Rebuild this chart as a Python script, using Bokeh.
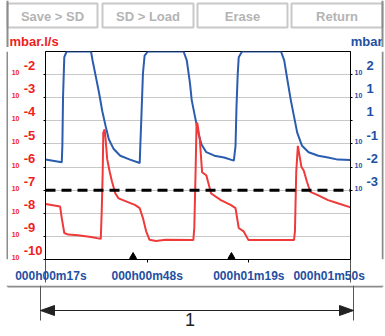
from bokeh.plotting import figure
from bokeh.models import Range1d, LogAxis, LogScale, FixedTicker, Span
from bokeh.layouts import column, row
from bokeh.core.properties import value
from bokeh.embed import file_html
from bokeh.resources import INLINE
import math

# ---------------- data ----------------
time_pressure = [17.0, 21.96, 22.14, 22.35, 22.73, 23.45, 30.88, 31.35, 32.36, 33.34,
                 34.32, 35.33, 36.31, 37.80, 39.79, 42.76, 45.73, 45.91, 46.21, 46.71,
                 47.22, 48.2, 59.1, 60.08, 61.06, 61.57, 62.55, 63.56, 64.54, 66.03,
                 68.49, 71.46, 74.43, 74.94, 75.24, 75.62, 75.92, 76.93, 88.81, 89.79,
                 90.77, 91.78, 92.76, 93.75, 95.23, 97.22, 100.19, 103.16, 106.14, 110.0]
pressure = [2.1e-2, 1.6e-2, 8.3e-2, 11, 570, 1000, 1000, 410, 80, 16,
            2.6, 0.59, 0.16, 0.060, 0.031, 0.021, 0.015, 0.083, 1.15, 112,
            670, 1000, 1000, 410, 42, 8.1, 1.6, 0.31, 0.098, 0.044,
            0.031, 0.026, 0.019, 0.083, 4.2, 112, 570, 1000, 1000, 410,
            58, 8.1, 1.6, 0.31, 0.083, 0.044, 0.031, 0.026, 0.021, 0.020]

time_leak = [17.0, 21.46, 21.96, 22.73, 23.92, 26.89, 30.88, 33.85, 34.14, 34.44,
             34.62, 35.03, 35.33, 35.81, 36.61, 37.29, 38.30, 39.28, 41.75, 44.25,
             45.73, 46.71, 47.69, 48.70, 50.66, 53.63, 62.07, 62.37, 62.76, 63.05,
             63.26, 64.04, 64.75, 66.03, 67.51, 70.48, 73.45, 74.94, 75.92, 77.40,
             78.89, 84.36, 92.77, 93.06, 93.45, 93.95, 94.46, 95.05, 95.74, 96.72,
             97.73, 100.19, 103.16, 106.14, 110.0]
leak_rate = [2.5e-8, 1.95e-8, 6.2e-9, 1.4e-9, 1.2e-9, 1.12e-9, 9.5e-10, 7.8e-10, 1.2e-8, 6.0e-7,
             3.1e-5, 4.3e-5, 1.6e-5, 2.2e-6, 6.0e-7, 2.3e-7, 7.2e-8, 4.4e-8, 3.2e-8, 2.3e-8,
             1.66e-8, 6.2e-9, 1.66e-9, 7.2e-10, 6.3e-10, 7.2e-10, 6.9e-10, 2.3e-9, 6.0e-7, 6.9e-5,
             8.3e-5, 1.6e-5, 6.0e-7, 4.4e-7, 7.2e-8, 3.7e-8, 2.3e-8, 1.66e-8, 2.3e-9, 1.66e-9,
             6.9e-10, 6.9e-10, 6.9e-10, 1.66e-9, 6.0e-7, 8.3e-6, 3.1e-6, 1.0e-6, 7.1e-7, 2.3e-7,
             8.5e-8, 6.0e-8, 3.7e-8, 2.7e-8, 1.8e-8]

leak_range = (1e-10, 1e-1)
pressure_range = (1e-6, 1e3)
leak_ticks = [1e-2, 1e-3, 1e-4, 1e-5, 1e-6, 1e-7, 1e-8, 1e-9, 1e-10]
pressure_ticks = [1e2, 1e1, 1.0, 1e-1, 1e-2, 1e-3]
time_ticks = [17, 48, 79, 110]
time_tick_labels = ["000h00m17s", "000h00m48s", "000h01m19s", "000h01m50s"]
marker_times = [43.7, 73.7]
threshold = 1e-7
buttons = ["Save > SD", "SD > Load", "Erase", "Return"]
leak_unit = "mbar.l/s"
pressure_unit = "mbar"
dimension_label = "1"

# ---------------- styling ----------------
RED = "#f03a3a"
RED_TXT = "#f01e1e"
BLUE = "#2a5caf"
BLUE_TXT = "#1f50a3"
BOX = "#8c8c8c"
FONT = "Liberation Sans"
NB = "\u00a0"

W = 385
H_HEAD, H_MAIN, H_FOOT = 47, 238, 51
W_LBAR, W_RBAR = 8, 4
MW = W - W_LBAR - W_RBAR          # 373
M_LEFT, M_RIGHT, M_TOP, M_BOTTOM = 32, 28, 4, 23
FRAME_H = H_MAIN - M_TOP - M_BOTTOM
DECADE_PX = FRAME_H / math.log10(leak_range[1] / leak_range[0])
X_L = W_LBAR + M_LEFT             # frame left in page px
X_R = W_LBAR + MW - M_RIGHT       # frame right in page px


def shifted(rng, px):
    f = 10 ** (px / DECADE_PX)
    return Range1d(rng[0] / f, rng[1] / f)


def deco_fig(w, h, x0=0):
    f = figure(width=w, height=h, x_range=Range1d(x0, x0 + w), y_range=Range1d(h, 0),
               output_backend="svg", toolbar_location=None,
               x_axis_location=None, y_axis_location=None, min_border=0)
    f.outline_line_color = None
    f.background_fill_color = "white"
    f.border_fill_color = "white"
    f.xgrid.visible = False
    f.ygrid.visible = False
    return f


# ---------------- main chart ----------------
p = figure(width=MW, height=H_MAIN, y_axis_type="log",
           x_range=Range1d(time_ticks[0], time_ticks[-1]),
           y_range=Range1d(*leak_range),
           output_backend="svg", toolbar_location=None,
           min_border_left=M_LEFT, min_border_right=M_RIGHT,
           min_border_top=M_TOP, min_border_bottom=M_BOTTOM)
p.extra_y_ranges = {
    "p": Range1d(*pressure_range),
    "lexp": shifted(leak_range, 9),
    "lten": shifted(leak_range, 2),
    "pexp": shifted(pressure_range, 9),
    "pten": shifted(pressure_range, 2),
}
p.extra_y_scales = {k: LogScale() for k in p.extra_y_ranges}
p.outline_line_color = "black"
p.outline_line_width = 1
p.background_fill_color = "white"
p.border_fill_color = "white"

p.xgrid.visible = False
p.ygrid.ticker = FixedTicker(ticks=leak_ticks)
p.ygrid.grid_line_color = "#c8c8c8"


def style_axis(ax, ticks, labels, size, color, standoff, tick_out, line):
    ax.ticker = FixedTicker(ticks=ticks)
    ax.major_label_overrides = dict(zip(ticks, labels))
    ax.major_label_text_font = FONT
    ax.major_label_text_font_size = size
    ax.major_label_text_font_style = "bold"
    ax.major_label_text_color = color
    ax.major_label_standoff = standoff
    ax.major_tick_out = tick_out
    ax.major_tick_in = 0
    ax.major_tick_line_color = "black" if tick_out else None
    ax.minor_tick_line_color = None
    ax.axis_line_color = "black" if line else None


def exps(ticks):
    return [str(int(round(math.log10(v)))) for v in ticks]


# left: tick axis (inner), exponent axis, "10" axis (outer)
style_axis(p.yaxis[0], leak_ticks, [""] * len(leak_ticks), "1px", RED_TXT, 1, 2, True)
left_exp = exps(leak_ticks)
width_max = max(len(s) for s in left_exp)
left_exp = [s + NB * (2 * (width_max - len(s))) for s in left_exp]
ax = LogAxis(y_range_name="lexp")
style_axis(ax, leak_ticks, left_exp, "13px", RED_TXT, 1, 0, False)
p.add_layout(ax, "left")
ax = LogAxis(y_range_name="lten")
style_axis(ax, leak_ticks, ["10"] * len(leak_ticks), "7px", RED_TXT, 1, 0, False)
p.add_layout(ax, "left")

# right: tick axis (inner), "10" axis, exponent axis (outer)
ax = LogAxis(y_range_name="p")
style_axis(ax, pressure_ticks, [""] * len(pressure_ticks), "1px", BLUE_TXT, 0, 2, True)
p.add_layout(ax, "right")
ax = LogAxis(y_range_name="pten")
style_axis(ax, pressure_ticks, ["" if v == 1.0 else "10" for v in pressure_ticks],
           "7px", BLUE_TXT, 2, 0, False)
p.add_layout(ax, "right")
right_exp = ["1" if v == 1.0 else s for v, s in zip(pressure_ticks, exps(pressure_ticks))]
ax = LogAxis(y_range_name="pexp")
style_axis(ax, pressure_ticks, right_exp, "13px", BLUE_TXT, 1, 0, False)
p.add_layout(ax, "right")

# x axis (minor ticks at the ends carry the dimension lines through the axis area)
xa = p.xaxis[0]
xlab = list(time_tick_labels)
xlab[0] = NB * 2 + xlab[0]
xlab[-1] = xlab[-1] + NB * 5
xa.ticker = FixedTicker(ticks=time_ticks, minor_ticks=[time_ticks[0], time_ticks[-1]])
xa.major_label_overrides = dict(zip(time_ticks, xlab))
xa.major_label_text_font = FONT
xa.major_label_text_font_size = "12px"
xa.major_label_text_font_style = "bold"
xa.major_label_text_color = BLUE_TXT
xa.major_label_standoff = -14
xa.major_tick_out = 3
xa.major_tick_in = 0
xa.minor_tick_out = M_BOTTOM
xa.minor_tick_in = 0
xa.minor_tick_line_color = "#555555"
xa.axis_line_color = "black"

# data
p.line(time_pressure, pressure, y_range_name="p", line_color=BLUE, line_width=2)
p.line(time_leak, leak_rate, line_color=RED, line_width=2)
p.add_layout(Span(location=threshold, dimension="width", line_color="black",
                  line_width=3, line_dash="10 6"))
mark_y = leak_range[0] * 10 ** (3 / DECADE_PX)
p.scatter(marker_times, [mark_y] * len(marker_times), marker="triangle", size=7,
          fill_color="black", line_color="black")

# ---------------- header (buttons + units) ----------------
head = deco_fig(W, H_HEAD)
bx0 = [7, 102, 197, 291]
bx1 = [97, 193, 287, 382]
head.quad(left=bx0, right=bx1, top=[3] * 4, bottom=[27] * 4,
          fill_color="white", line_color="#c8c8c8", line_width=2)
head.text(x=[(a + b) / 2 for a, b in zip(bx0, bx1)], y=[15.5] * 4, text=buttons,
          text_align="center", text_baseline="middle", text_font=value(FONT),
          text_font_size="13px", text_font_style="bold", text_color="#b4b4b4")
head.text(x=[9], y=[40.5], text=[leak_unit], text_align="left", text_baseline="middle",
          text_font=value(FONT), text_font_size="13px", text_font_style="bold",
          text_color=RED_TXT)
head.text(x=[382], y=[40.5], text=[pressure_unit], text_align="right",
          text_baseline="middle", text_font=value(FONT), text_font_size="13px",
          text_font_style="bold", text_color=BLUE_TXT)
head.segment(x0=[7, 382], y0=[0, 0], x1=[7, 382], y1=[H_HEAD, H_HEAD],
             line_color=BOX, line_width=2)

# ---------------- side bars of the outer box ----------------
bar_l = deco_fig(W_LBAR, H_MAIN, 0)
bar_l.segment(x0=[7], y0=[0], x1=[7], y1=[H_MAIN], line_color=BOX, line_width=2)
bar_r = deco_fig(W_RBAR, H_MAIN, W - W_RBAR)
bar_r.segment(x0=[382], y0=[0], x1=[382], y1=[H_MAIN], line_color=BOX, line_width=2)

# ---------------- footer (box bottom + dimension) ----------------
foot = deco_fig(W, H_FOOT)
foot.segment(x0=[7, 7, 382], y0=[1, 0, 0], x1=[382, 7, 382], y1=[1, 1, 1],
             line_color=BOX, line_width=2)
foot.segment(x0=[X_L, X_R], y0=[0, 0], x1=[X_L, X_R], y1=[35, 35],
             line_color="#555555", line_width=1)
ay = 25
foot.segment(x0=[X_L], y0=[ay], x1=[X_R], y1=[ay], line_color="#222222", line_width=1)
foot.patches(xs=[[X_L, X_L + 14, X_L + 14], [X_R, X_R - 14, X_R - 14]],
             ys=[[ay, ay - 5, ay + 5], [ay, ay - 5, ay + 5]],
             fill_color="#222222", line_color="#222222")
foot.text(x=[(X_L + X_R) / 2 - 7], y=[27], text=[dimension_label], text_align="center",
          text_baseline="top", text_font=value(FONT), text_font_size="18px",
          text_color="#222222")

layout = column(head, row(bar_l, p, bar_r), foot)
open("out.html", "w").write(file_html(layout, INLINE))
